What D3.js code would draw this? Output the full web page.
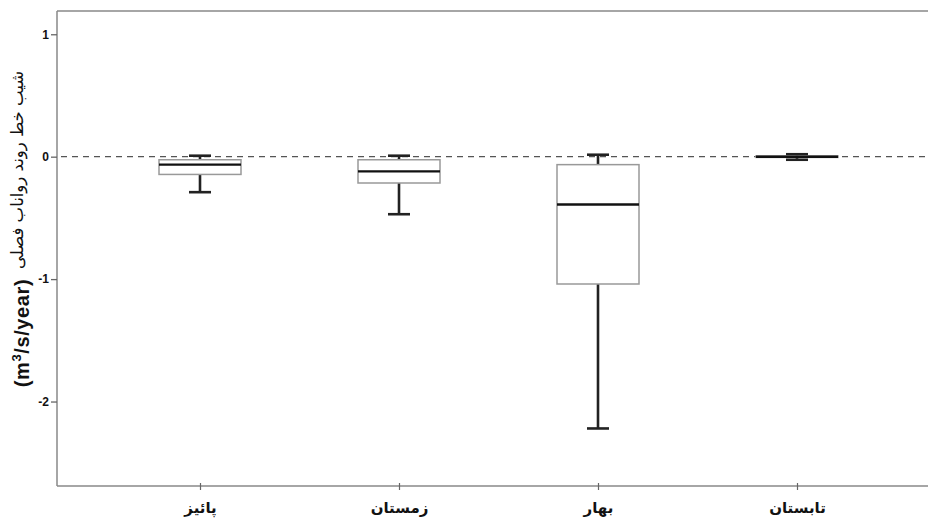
<!DOCTYPE html>
<html>
<head>
<meta charset="utf-8">
<script src="https://cdn.jsdelivr.net/npm/d3@7"></script>
<style>
  body { margin: 0; background: #fff; }
  svg { display: block; }
</style>
</head>
<body>
<div id="graph"></div>
<script>
// seasons and box statistics (trend slope, m3/s/year)
const seasons = ["پائیز", "زمستان", "بهار", "تابستان"];
const whiskerLow = [-0.29, -0.47, -2.22, -0.025];
const q1 = [-0.145, -0.215, -1.04, -0.006];
const median = [-0.065, -0.12, -0.39, 0];
const q3 = [-0.025, -0.025, -0.065, 0.006];
const whiskerHigh = [0.008, 0.008, 0.016, 0.02];
const yTicks = [1, 0, -1, -2];

let svgWidth = 928, svgHeight = 522;
let plot = { left: 57, top: 11, right: 928, bottom: 486 };

let svg = d3.select("#graph").append("svg")
  .attr("width", svgWidth)
  .attr("height", svgHeight);

let yScale = d3.scaleLinear()
  .domain([-2.69, 1.19])
  .range([plot.bottom, plot.top]);

let xScale = d3.scalePoint()
  .domain(seasons)
  .range([200, 797]);

let boxWidth = 82, capWidth = 22;

let data = seasons.map((s, i) => ({
  season: s, lo: whiskerLow[i], q1: q1[i], med: median[i], q3: q3[i], hi: whiskerHigh[i]
}));

// frame lines
svg.append("line")
  .attr("x1", plot.left).attr("x2", plot.right)
  .attr("y1", plot.top).attr("y2", plot.top)
  .style("stroke", "#888").style("stroke-width", 1.5);

// zero reference line
svg.append("line")
  .attr("x1", plot.left + 4).attr("x2", plot.right)
  .attr("y1", yScale(0)).attr("y2", yScale(0))
  .style("stroke", "#555").style("stroke-width", 1.3)
  .style("stroke-dasharray", "6,5");

// left axis
let yAxis = d3.axisLeft(yScale).tickValues(yTicks).tickSize(6).tickPadding(2)
  .tickFormat(d => String(d));
let gy = svg.append("g")
  .attr("transform", `translate(${plot.left},0)`)
  .call(yAxis);
gy.select(".domain").attr("d", `M0,${plot.top}V${plot.bottom}`)
  .style("stroke", "#888").style("stroke-width", 1.5);
gy.selectAll(".tick line").style("stroke", "#666").style("stroke-width", 1.3);
gy.selectAll(".tick text")
  .style("font-family", "'Liberation Sans', Arial, sans-serif")
  .style("font-weight", "bold")
  .style("font-size", "12px")
  .style("fill", "#111");

// bottom axis
let xAxis = d3.axisBottom(xScale).tickSize(4).tickPadding(12);
let gx = svg.append("g")
  .attr("transform", `translate(0,${plot.bottom})`)
  .call(xAxis);
gx.select(".domain").attr("d", `M${plot.left},0H${plot.right}`)
  .style("stroke", "#888").style("stroke-width", 1.5);
gx.selectAll(".tick line").attr("y1", -3).style("stroke", "#666").style("stroke-width", 1.2);
gx.selectAll(".tick text")
  .style("font-family", "'DejaVu Sans', sans-serif")
  .style("font-weight", "bold")
  .style("font-size", "15px")
  .style("fill", "#111");

// boxes
let boxes = svg.append("g").selectAll("g")
  .data(data)
  .enter().append("g")
  .attr("transform", d => `translate(${xScale(d.season)},0)`);

// whiskers
boxes.append("line")
  .attr("x1", 0).attr("x2", 0)
  .attr("y1", d => yScale(d.hi)).attr("y2", d => yScale(d.q3))
  .style("stroke", "#222").style("stroke-width", 2.6);
boxes.append("line")
  .attr("x1", 0).attr("x2", 0)
  .attr("y1", d => yScale(d.q1)).attr("y2", d => yScale(d.lo))
  .style("stroke", "#222").style("stroke-width", 2.6);
boxes.append("line")
  .attr("x1", -capWidth / 2).attr("x2", capWidth / 2)
  .attr("y1", d => yScale(d.hi)).attr("y2", d => yScale(d.hi))
  .style("stroke", "#222").style("stroke-width", 2.6);
boxes.append("line")
  .attr("x1", -capWidth / 2).attr("x2", capWidth / 2)
  .attr("y1", d => yScale(d.lo)).attr("y2", d => yScale(d.lo))
  .style("stroke", "#222").style("stroke-width", 2.6);

boxes.append("rect")
  .attr("x", -boxWidth / 2)
  .attr("width", boxWidth)
  .attr("y", d => yScale(d.q3))
  .attr("height", d => yScale(d.q1) - yScale(d.q3))
  .style("fill", "#fff")
  .style("stroke", "#999").style("stroke-width", 1.5);

boxes.append("line")
  .attr("x1", -boxWidth / 2).attr("x2", boxWidth / 2)
  .attr("y1", d => yScale(d.med)).attr("y2", d => yScale(d.med))
  .style("stroke", "#111").style("stroke-width", 2.4);

// y axis title (rotated)
svg.append("text")
  .attr("transform", `translate(23,170) rotate(-90)`)
  .attr("text-anchor", "middle")
  .style("font-family", "'DejaVu Sans', sans-serif")
  .style("font-size", "16.5px")
  .style("fill", "#111")
  .text("شیب خط روند رواناب فصلی");

let unitLabel = svg.append("text")
  .attr("transform", `translate(29,333) rotate(-90)`)
  .attr("text-anchor", "middle")
  .style("font-family", "'Liberation Sans', Arial, sans-serif")
  .style("font-weight", "bold")
  .style("font-size", "20px")
  .style("letter-spacing", "0.6px")
  .style("fill", "#111");
unitLabel.append("tspan").text("(m");
unitLabel.append("tspan").attr("dy", -8).style("font-size", "13px").text("3");
unitLabel.append("tspan").attr("dy", 8).text("/s/year)");
</script>
</body>
</html>
